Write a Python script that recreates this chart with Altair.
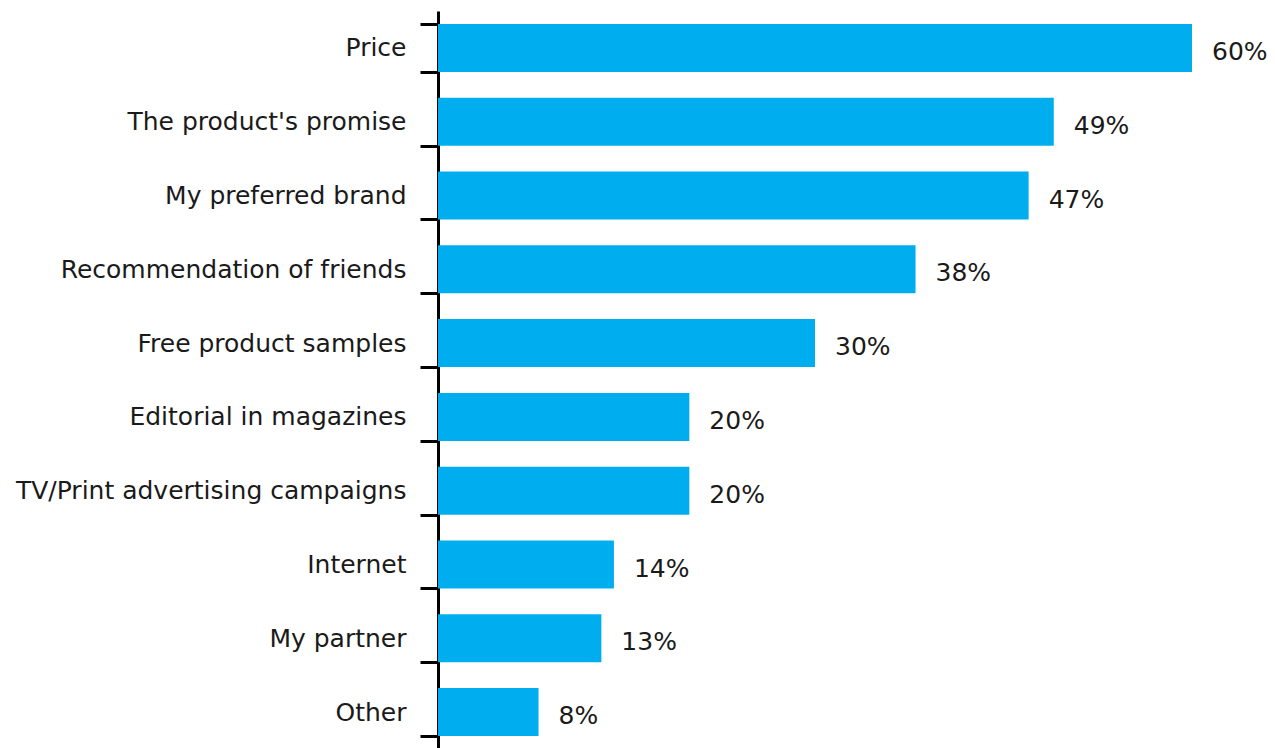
import altair as alt
import pandas as pd

categories = ["Price", "The product's promise", "My preferred brand",
              "Recommendation of friends", "Free product samples",
              "Editorial in magazines", "TV/Print advertising campaigns",
              "Internet", "My partner", "Other"]
values = [60, 49, 47, 38, 30, 20, 20, 14, 13, 8]
labels = ["60%", "49%", "47%", "38%", "30%", "20%", "20%", "14%", "13%", "8%"]

df = pd.DataFrame({"cat": categories, "val": values, "lab": labels})

FONT = "DejaVu Sans"
FS = 25

y = alt.Y("cat:N", sort=categories, title=None,
          scale=alt.Scale(paddingInner=0.35, paddingOuter=0.175),
          axis=alt.Axis(domain=True, domainColor="black", domainWidth=3,
                        ticks=True, tickBand="extent", tickColor="black",
                        tickWidth=3, tickSize=18, labelPadding=14, grid=False,
                        labelFont=FONT, labelFontSize=FS, labelColor="#1a1a1a",
                        labelLimit=500))
x = alt.X("val:Q", title=None, scale=alt.Scale(domain=[0, 60], nice=False),
          axis=None)

bars = alt.Chart(df).mark_bar(color="#00AEEF").encode(x=x, y=y)
text = alt.Chart(df).mark_text(align="left", baseline="middle", dx=20, dy=4,
                               font=FONT, fontSize=FS, color="#1a1a1a").encode(
    x=x, y=alt.Y("cat:N", sort=categories), text="lab:N")

chart = (bars + text).properties(
    width=754, height=738,
    background="white",
    autosize=alt.AutoSizeParams(type="none"),
    padding={"left": 438, "top": 11, "right": 83, "bottom": 0},
).configure_view(strokeWidth=0, stroke="transparent")

chart.save("out.html", embed_options={"renderer": "svg", "actions": False})
